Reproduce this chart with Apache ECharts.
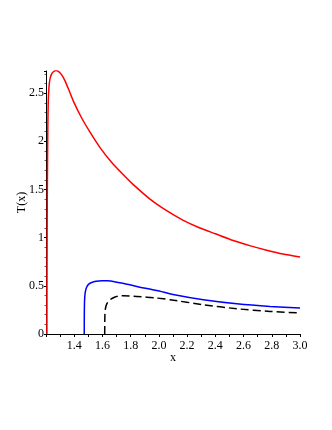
<!DOCTYPE html>
<html>
<head>
<meta charset="utf-8">
<script src="https://cdn.jsdelivr.net/npm/echarts@6/dist/echarts.min.js"></script>
<style>
html,body{margin:0;padding:0;background:#fff;}
#chart{width:332px;height:430px;}
</style>
</head>
<body>
<div id="chart"></div>
<script>
// Red curve
const redX = [1.2065, 1.207, 1.208, 1.209, 1.211, 1.213, 1.216, 1.221, 1.228, 1.24, 1.255, 1.271, 1.285, 1.30, 1.316, 1.334, 1.36, 1.393, 1.45, 1.512, 1.583, 1.666, 1.75, 1.819, 1.937, 2.055, 2.173, 2.291, 2.40, 2.527, 2.65, 2.764, 2.88, 3.0];
const redY = [0, 0.5, 1.0, 1.4, 1.8, 2.15, 2.42, 2.56, 2.645, 2.70, 2.725, 2.734, 2.728, 2.71, 2.68, 2.63, 2.54, 2.42, 2.25, 2.095, 1.935, 1.78, 1.65, 1.55, 1.40, 1.28, 1.18, 1.10, 1.04, 0.97, 0.915, 0.87, 0.83, 0.80];
// Blue curve
const blueX = [1.471, 1.4715, 1.4725, 1.4745, 1.478, 1.483, 1.49, 1.503, 1.524, 1.555, 1.595, 1.635, 1.677, 1.76, 1.843, 1.985, 2.11, 2.315, 2.552, 2.788, 3.0];
const blueY = [0, 0.2, 0.31, 0.38, 0.43, 0.465, 0.492, 0.518, 0.535, 0.547, 0.553, 0.552, 0.546, 0.522, 0.494, 0.452, 0.408, 0.356, 0.314, 0.286, 0.270];
// Black dashed curve
const blackX = [1.616, 1.6165, 1.618, 1.622, 1.63, 1.642, 1.66, 1.689, 1.715, 1.748, 1.843, 1.985, 2.079, 2.315, 2.552, 2.788, 3.0];
const blackY = [0, 0.12, 0.22, 0.27, 0.31, 0.338, 0.362, 0.384, 0.393, 0.397, 0.390, 0.373, 0.356, 0.304, 0.262, 0.234, 0.218];
// Axis ticks
const xTicks = {min: 1.2, max: 3.0, interval: 0.2};
const yTicks = {min: 0, max: 2.73, interval: 0.5};

function pairs(xs, ys) { return xs.map((x, i) => [x, ys[i]]); }

const font = 'Liberation Serif';
const chart = echarts.init(document.getElementById('chart'), null, {renderer: 'canvas'});
chart.setOption({
  animation: false,
  backgroundColor: '#fff',
  grid: {left: 46, right: 32, top: 71, bottom: 96, containLabel: false},
  xAxis: {
    type: 'value',
    min: xTicks.min, max: xTicks.max, interval: xTicks.interval,
    name: 'x', nameLocation: 'middle', nameGap: 18, nameMoveOverlap: false,
    nameTextStyle: {fontFamily: font, fontSize: 12, color: '#000'},
    axisLine: {show: true, onZero: false, lineStyle: {color: '#000', width: 1}},
    axisTick: {show: true, length: 3, lineStyle: {color: '#000'}},
    minorTick: {show: true, splitNumber: 2, length: 3, lineStyle: {color: '#000'}},
    splitLine: {show: false},
    axisLabel: {showMinLabel: false, fontFamily: font, fontSize: 12, color: '#000', margin: 6,
      formatter: v => v.toFixed(1)}
  },
  yAxis: {
    type: 'value',
    min: yTicks.min, max: yTicks.max, interval: yTicks.interval,
    name: 'T(x)', nameLocation: 'middle', nameGap: 18, nameRotate: 90, nameMoveOverlap: false,
    nameTextStyle: {fontFamily: font, fontSize: 12, color: '#000'},
    axisLine: {show: true, onZero: false, lineStyle: {color: '#000', width: 1}},
    axisTick: {show: true, length: 2, lineStyle: {color: '#000'}},
    minorTick: {show: true, splitNumber: 5, length: 1.5, lineStyle: {color: '#666'}},
    splitLine: {show: false},
    axisLabel: {showMaxLabel: false, fontFamily: font, fontSize: 12, color: '#000', margin: 2,
      formatter: v => String(Math.round(v * 10) / 10)}
  },
  series: [
    {type: 'line', data: pairs(redX, redY), showSymbol: false, smooth: 0.2,
      lineStyle: {color: '#ff0000', width: 1.5}, z: 3},
    {type: 'line', data: pairs(blueX, blueY), showSymbol: false, smooth: 0.2,
      lineStyle: {color: '#0000ff', width: 1.5}, z: 3},
    {type: 'line', data: pairs(blackX, blackY), showSymbol: false, smooth: 0.2,
      lineStyle: {color: '#000', width: 1.5, type: [8, 4]}, z: 3}
  ]
});
</script>
</body>
</html>
